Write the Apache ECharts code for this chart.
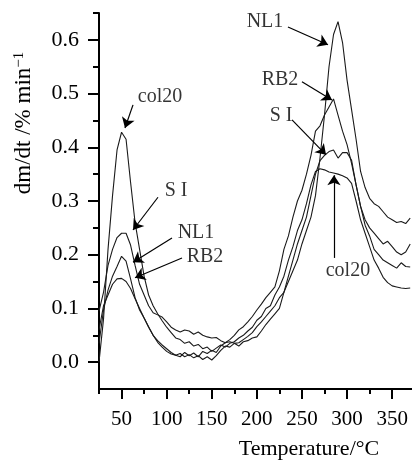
<!DOCTYPE html>
<html>
<head>
<meta charset="utf-8">
<script src="https://cdn.jsdelivr.net/npm/echarts@6/dist/echarts.min.js"></script>
<style>
  html, body { margin: 0; padding: 0; background: #fff; }
  #chart { width: 412px; height: 461px; }
</style>
</head>
<body>
<div id="chart"></div>
<script>
// temperature (°C) for every sample
var temps = [25, 30, 35, 40, 45, 50, 55, 60, 65, 70,
  75, 80, 85, 90, 95, 100, 105, 110, 115, 120,
  125, 130, 135, 140, 145, 150, 155, 160, 165, 170,
  175, 180, 185, 190, 195, 200, 205, 210, 215, 220,
  225, 230, 235, 240, 245, 250, 255, 260, 265, 270,
  275, 280, 285, 290, 295, 300, 305, 310, 315, 320,
  325, 330, 335, 340, 345, 350, 355, 360, 365, 370];

// dm/dt (%/min)
var col20 = [0.0, 0.08, 0.21, 0.31, 0.395, 0.428, 0.415, 0.335, 0.26, 0.21,
  0.16, 0.125, 0.105, 0.09, 0.077, 0.065, 0.055, 0.045, 0.042, 0.035,
  0.038, 0.03, 0.033, 0.025, 0.028, 0.02, 0.026, 0.032, 0.028, 0.035,
  0.038, 0.045, 0.05, 0.058, 0.065, 0.078, 0.085, 0.1, 0.105, 0.125,
  0.14, 0.16, 0.19, 0.215, 0.245, 0.265, 0.295, 0.33, 0.355, 0.36,
  0.358, 0.354, 0.352, 0.35, 0.347, 0.343, 0.333, 0.3, 0.265, 0.24,
  0.215, 0.19, 0.175, 0.158, 0.148, 0.142, 0.14, 0.138, 0.137, 0.138];

var sI = [0.095, 0.13, 0.18, 0.21, 0.232, 0.24, 0.24, 0.218, 0.18, 0.145,
  0.125, 0.105, 0.092, 0.088, 0.084, 0.075, 0.065, 0.06, 0.056, 0.06,
  0.058, 0.052, 0.056, 0.05, 0.047, 0.045, 0.046, 0.04, 0.036, 0.038,
  0.035, 0.036, 0.042, 0.048, 0.055, 0.066, 0.075, 0.085, 0.095, 0.105,
  0.12, 0.13, 0.16, 0.19, 0.22, 0.245, 0.27, 0.31, 0.35, 0.375,
  0.385, 0.392, 0.395, 0.38, 0.39, 0.39, 0.376, 0.33, 0.29, 0.265,
  0.25, 0.24, 0.23, 0.22, 0.225, 0.215, 0.205, 0.2, 0.205, 0.22];

var nl1 = [0.035, 0.097, 0.134, 0.16, 0.178, 0.197, 0.188, 0.155, 0.12, 0.097,
  0.082, 0.066, 0.05, 0.04, 0.032, 0.025, 0.018, 0.013, 0.016, 0.01,
  0.014, 0.008, 0.012, 0.005, 0.01, 0.004, 0.012, 0.022, 0.03, 0.028,
  0.035, 0.03, 0.038, 0.04, 0.045, 0.047, 0.058, 0.07, 0.08, 0.09,
  0.1, 0.13, 0.15, 0.17, 0.19, 0.22, 0.245, 0.27, 0.31, 0.38,
  0.46, 0.55, 0.61, 0.634, 0.595, 0.525, 0.47, 0.415, 0.355, 0.325,
  0.305, 0.295, 0.29, 0.28, 0.27, 0.265, 0.26, 0.262, 0.258, 0.268];

var rb2 = [0.06, 0.105, 0.125, 0.145, 0.155, 0.156, 0.15, 0.137, 0.118, 0.1,
  0.082, 0.065, 0.05, 0.037, 0.028, 0.02, 0.015, 0.013, 0.01, 0.018,
  0.012, 0.017, 0.01, 0.02, 0.016, 0.022, 0.018, 0.03, 0.036, 0.042,
  0.05, 0.06, 0.066, 0.075, 0.085, 0.097, 0.108, 0.12, 0.13, 0.14,
  0.17, 0.21, 0.235, 0.27, 0.3, 0.32, 0.35, 0.385, 0.43, 0.44,
  0.46, 0.475, 0.49, 0.46, 0.43, 0.405, 0.37, 0.33, 0.29, 0.255,
  0.235, 0.21, 0.2, 0.19, 0.185, 0.18, 0.175, 0.185, 0.178, 0.177];

// axis ticks
var xTicks = [50, 100, 150, 200, 250, 300, 350];
var xMinor = [25, 75, 125, 175, 225, 275, 325];
var yTicks = [0, 0.1, 0.2, 0.3, 0.4, 0.5, 0.6];
var yMinor = [0.05, 0.15, 0.25, 0.35, 0.45, 0.55, 0.65];

// annotation labels and arrows
var labelText = ['col20', 'S I', 'NL1', 'RB2', 'NL1', 'RB2', 'S I', 'col20'];
var labelPos = [[92.6, 0.494], [110.4, 0.32], [132.5, 0.24], [142.5, 0.197],
  [209, 0.633], [225.7, 0.525], [226.8, 0.458], [301, 0.17]];
var arrowFrom = [[62.7, 0.479], [90.4, 0.307], [105.9, 0.231], [117, 0.194],
  [234.5, 0.624], [250, 0.522], [239, 0.451], [285.5, 0.194]];
var arrowTo = [[53.8, 0.436], [62.7, 0.246], [62.7, 0.186], [64.9, 0.157],
  [278.9, 0.591], [283.3, 0.488], [276.7, 0.386], [285.5, 0.348]];

var serif = "'Liberation Serif', 'Times New Roman', serif";
var ink = '#1a1a1a';

function pairs(vals) {
  return temps.map(function (t, i) { return [t, vals[i]]; });
}

function curve(name, vals) {
  return {
    name: name,
    type: 'line',
    data: pairs(vals),
    symbol: 'none',
    lineStyle: { color: ink, width: 1.1 },
    silent: true
  };
}

var chart = echarts.init(document.getElementById('chart'));

var option = {
  backgroundColor: '#fff',
  animation: false,
  grid: { left: 99, right: 0, top: 13, bottom: 72 },
  xAxis: [{
    type: 'value',
    min: 25,
    max: 372,
    splitLine: { show: false },
    axisLine: { onZero: false, lineStyle: { color: '#000', width: 2 } },
    axisTick: { customValues: xTicks, length: 10, lineStyle: { color: '#000', width: 2 } },
    axisLabel: { customValues: xTicks, margin: 20, color: '#000', fontSize: 21, fontFamily: serif }
  }, {
    type: 'value',
    min: 25,
    max: 372,
    position: 'bottom',
    splitLine: { show: false },
    axisLine: { show: false, onZero: false },
    axisTick: { customValues: xMinor, length: 5, lineStyle: { color: '#000', width: 2 } },
    axisLabel: { show: false }
  }],
  yAxis: [{
    type: 'value',
    min: -0.05,
    max: 0.65,
    splitLine: { show: false },
    axisLine: { onZero: false, lineStyle: { color: '#000', width: 2 } },
    axisTick: { customValues: yTicks, length: 11, lineStyle: { color: '#000', width: 2 } },
    axisLabel: {
      customValues: yTicks, margin: 20, color: '#000', fontSize: 22, fontFamily: serif,
      formatter: function (v) { return v.toFixed(1); }
    }
  }, {
    type: 'value',
    min: -0.05,
    max: 0.65,
    position: 'left',
    splitLine: { show: false },
    axisLine: { show: false, onZero: false },
    axisTick: { customValues: yMinor, length: 6, lineStyle: { color: '#000', width: 2 } },
    axisLabel: { show: false }
  }],
  series: [
    curve('col20', col20),
    curve('S I', sI),
    curve('NL1', nl1),
    curve('RB2', rb2),
    {
      name: 'labels',
      type: 'scatter',
      silent: true,
      symbolSize: 1,
      itemStyle: { color: 'transparent' },
      data: labelPos.map(function (p, i) { return { value: p, name: labelText[i] }; }),
      label: {
        show: true,
        position: 'inside',
        formatter: '{b}',
        color: '#000',
        fontSize: 20,
        fontFamily: serif
      },
      markLine: {
        silent: true,
        symbol: ['none', 'arrow'],
        symbolSize: 10,
        label: { show: false },
        lineStyle: { color: '#000', width: 1.2, type: 'solid' },
        data: arrowFrom.map(function (p, i) {
          return [{ coord: p }, { coord: arrowTo[i] }];
        })
      }
    }
  ],
  graphic: [{
    type: 'text',
    x: 309,
    y: 449,
    style: {
      text: 'Temperature/°C',
      font: '22px ' + serif,
      fill: '#000',
      align: 'center',
      verticalAlign: 'middle'
    }
  }, {
    type: 'text',
    x: 24,
    y: 123,
    rotation: Math.PI / 2,
    style: {
      text: '{a|dm/dt /% min}{s|−1}',
      fill: '#000',
      align: 'center',
      verticalAlign: 'middle',
      rich: {
        a: { fontSize: 23, fontFamily: serif },
        s: { fontSize: 15, fontFamily: serif, verticalAlign: 'top', padding: [0, 0, 10, 0] }
      }
    }
  }]
};

chart.setOption(option);
</script>
</body>
</html>
